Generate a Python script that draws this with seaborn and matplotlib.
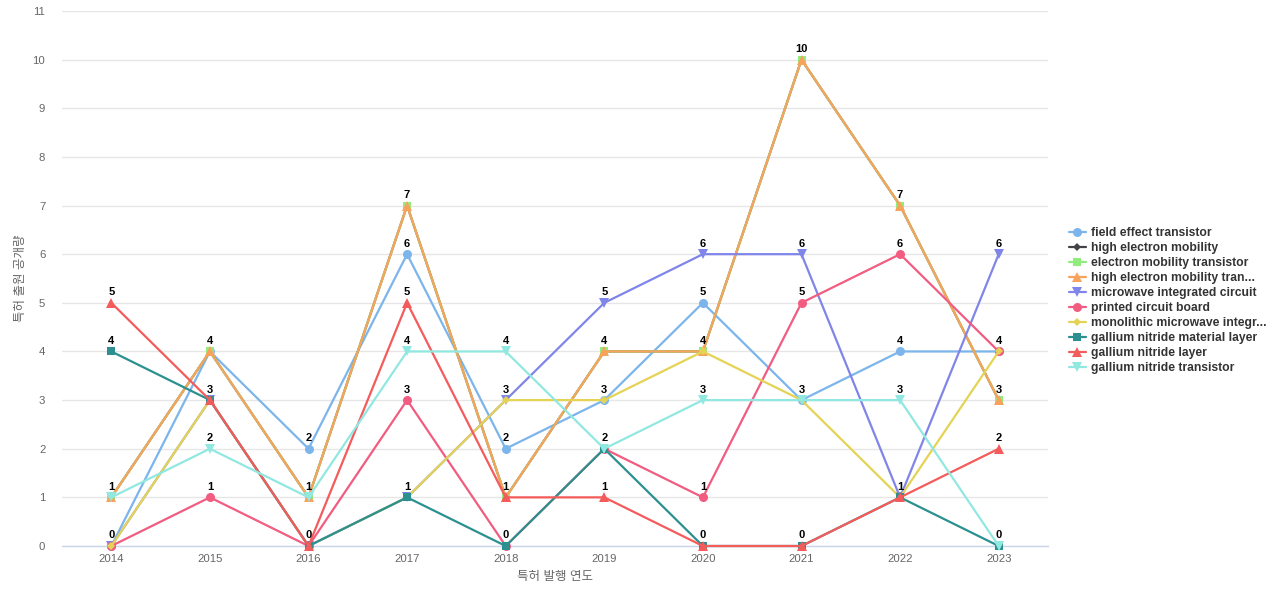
import numpy as np
import pandas as pd
import matplotlib
matplotlib.use("Agg")
import matplotlib.pyplot as plt
import seaborn as sns

sns.set_style("white")
plt.rcParams['font.family'] = ['Liberation Sans', 'Noto Sans CJK KR', 'DejaVu Sans']
plt.rcParams['axes.unicode_minus'] = False

# 데이터
years = [2014, 2015, 2016, 2017, 2018, 2019, 2020, 2021, 2022, 2023]
names = ["field effect transistor", "high electron mobility", "electron mobility transistor",
         "high electron mobility tran...", "microwave integrated circuit", "printed circuit board",
         "monolithic microwave integr...", "gallium nitride material layer", "gallium nitride layer",
         "gallium nitride transistor"]
field_effect = [0, 4, 2, 6, 2, 3, 5, 3, 4, 4]
high_electron = [1, 4, 1, 7, 1, 4, 4, 10, 7, 3]
electron_mobility = [1, 4, 1, 7, 1, 4, 4, 10, 7, 3]
hemt = [1, 4, 1, 7, 1, 4, 4, 10, 7, 3]
microwave_ic = [0, 3, 0, 1, 3, 5, 6, 6, 1, 6]
pcb = [0, 1, 0, 3, 0, 2, 1, 5, 6, 4]
mmic = [0, 3, 0, 1, 3, 3, 4, 3, 1, 4]
gan_material = [4, 3, 0, 1, 0, 2, 0, 0, 1, 0]
gan_layer = [5, 3, 0, 5, 1, 1, 0, 0, 1, 2]
gan_transistor = [1, 2, 1, 4, 4, 2, 3, 3, 3, 0]
series = [field_effect, high_electron, electron_mobility, hemt, microwave_ic,
          pcb, mmic, gan_material, gan_layer, gan_transistor]

colors = ["#7cb5ec", "#434348", "#90ed7d", "#f7a35c", "#8085e9",
          "#f15c80", "#e4d354", "#2b908f", "#f45b5b", "#91e8e1"]
markers = ["o", "D", "s", "^", "v", "o", "D", "s", "^", "v"]
msizes = [6.5, 4.5, 6, 6.5, 6.5, 6.5, 4.5, 6, 6.5, 6.5]

rows = []
for nm, vals in zip(names, series):
    for i, v in enumerate(vals):
        rows.append({"pos": i, "year": years[i], "name": nm, "value": v})
df = pd.DataFrame(rows)

fig = plt.figure(figsize=(12.8, 6), dpi=100)
ax = fig.add_axes([62 / 1280, 1 - 546 / 600, (1048 - 62) / 1280, (546 - 11) / 600])

for k, nm in enumerate(names):
    sns.lineplot(data=df[df["name"] == nm], x="pos", y="value", ax=ax, color=colors[k],
                 marker=markers[k], markersize=msizes[k], markeredgewidth=0,
                 linewidth=1.6, label=nm, zorder=3 + k, clip_on=False)

# 데이터 레이블 (겹치는 값은 하나만)
seen = set()
for nm, vals in zip(names, series):
    for i, v in enumerate(vals):
        if (i, v) in seen:
            continue
        seen.add((i, v))
        ax.annotate(str(v), (i, v), xytext=(0, 4), textcoords="offset points",
                    ha="center", va="bottom", fontsize=8, fontweight="bold",
                    color="black", zorder=20)

ax.set_xlim(-0.5, len(years) - 0.5)
ax.set_ylim(0, 11)
ax.set_xticks(range(len(years)))
ax.set_xticklabels([str(y) for y in years])
ax.set_yticks(range(0, 12))
ax.tick_params(axis="both", length=0, labelsize=8.2, labelcolor="#666666")
ax.tick_params(axis="y", pad=12)
ax.tick_params(axis="x", pad=6)
ax.grid(axis="y", color="#e6e6e6", linewidth=1)
ax.set_axisbelow(True)
for s in ["top", "right", "left"]:
    ax.spines[s].set_visible(False)
ax.spines["bottom"].set_color("#ccd6eb")
ax.spines["bottom"].set_linewidth(1)

ax.set_xlabel("특허 발행 연도", fontsize=9, color="#666666", labelpad=5)
ax.set_ylabel("특허 출원 공개량", fontsize=9, color="#666666", labelpad=4)

handles, labels = ax.get_legend_handles_labels()
ax.legend_.remove()
leg = fig.legend(handles, labels, loc="upper left", bbox_to_anchor=(1064 / 1280, 1 - 222 / 600),
                 frameon=False, fontsize=8.7, handlelength=1.4, handletextpad=0.45,
                 labelspacing=0.25, borderaxespad=0)
for t in leg.get_texts():
    t.set_fontweight("bold")
    t.set_color("#333333")

fig.savefig("out.png", dpi=100)
